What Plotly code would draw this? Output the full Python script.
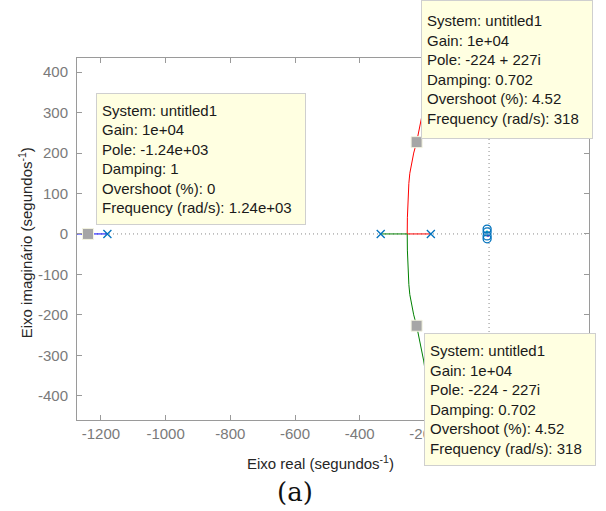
import plotly.graph_objects as go

# Open-loop poles and zeros (s-plane, 1/s)
pole_re = [-1180, -335, -180]
pole_im = [0, 0, 0]
zero_re = [-6, -6, -6, -6]
zero_im = [12, 5, -5, -12]

# Root-locus branches
blue_re = [-1180, -1274]
blue_im = [0, 0]
red_re = [-180, -253, -252.5, -251, -248, -245, -240, -233, -224, -213, -202, -181]
red_im = [0, 0, 40, 84, 125, 150, 175, 200, 227, 270, 314, 435]
green_re = [-335, -253, -252.5, -251, -248, -245, -240, -233, -224, -213, -202, -175]
green_im = [0, 0, -40, -84, -125, -150, -175, -200, -227, -270, -314, -460]
# short branches between the poles and zeros close to the origin
cyan_re = [-8, -5]
cyan_im = [8, 2]
magenta_re = [-4, -2]
magenta_im = [-2, -7]

# Data tips
tip_re = [-1240, -224, -224]
tip_im = [0, 227, -227]
tip_system = ["untitled1", "untitled1", "untitled1"]
tip_gain = ["1e+04", "1e+04", "1e+04"]
tip_pole = ["-1.24e+03", "-224 + 227i", "-224 - 227i"]
tip_damping = ["1", "0.702", "0.702"]
tip_overshoot = ["0", "4.52", "4.52"]
tip_freq = ["1.24e+03", "318", "318"]

# Axis ticks (labels at 0 and 200 sit under a data tip)
x_ticks = [-1200, -1000, -800, -600, -400, -200, 0, 200]
x_tick_labels = ["-1200", "-1000", "-800", "-600", "-400", "-200", "", ""]
y_ticks = [-400, -300, -200, -100, 0, 100, 200, 300, 400]
y_tick_labels = ["-400", "-300", "-200", "-100", "0", "100", "200", "300", "400"]
x_range = [-1274, 309]
y_range = [-460, 435]

W, H = 606, 511
L, R, T, B = 77, 17, 57.5, 91
PW, PH = W - L - R, H - T - B


def px(x):
    return (x - L) / PW


def py(y):
    return (H - B - y) / PH


fig = go.Figure()

fig.add_trace(go.Scatter(x=blue_re, y=blue_im, mode="lines",
                         line=dict(color="#0000ff", width=1)))
fig.add_trace(go.Scatter(x=red_re, y=red_im, mode="lines",
                         line=dict(color="#ff0000", width=1)))
fig.add_trace(go.Scatter(x=green_re, y=green_im, mode="lines",
                         line=dict(color="#008000", width=1)))
fig.add_trace(go.Scatter(x=cyan_re, y=cyan_im, mode="lines",
                         line=dict(color="#00bfbf", width=2)))
fig.add_trace(go.Scatter(x=magenta_re, y=magenta_im, mode="lines",
                         line=dict(color="#bf00bf", width=2)))

fig.add_trace(go.Scatter(x=pole_re, y=pole_im, mode="markers",
                         marker=dict(symbol="x-thin", size=8, color="#0072BD",
                                     line=dict(color="#0072BD", width=1.3))))
fig.add_trace(go.Scatter(x=zero_re, y=zero_im, mode="markers",
                         marker=dict(symbol="circle-open", size=8, color="#0072BD",
                                     line=dict(color="#0072BD", width=1.3))))

fig.add_trace(go.Scatter(x=tip_re, y=tip_im, mode="markers",
                         marker=dict(symbol="square", size=11, color="#a6a6a6",
                                     line=dict(color="#f4f4e0", width=1))))

# Dotted real and imaginary axes
fig.add_shape(type="line", xref="x", yref="paper", x0=0, x1=0, y0=0, y1=1,
              line=dict(color="#8a8a8a", width=1, dash="1px,3px"), layer="below")
fig.add_shape(type="line", xref="paper", yref="y", x0=0, x1=1, y0=0, y1=0,
              line=dict(color="#8a8a8a", width=1, dash="1px,3px"), layer="below")

axis_common = dict(showgrid=False, zeroline=False, showline=True, mirror="ticks",
                   linecolor="#9a9a9a", linewidth=1, ticks="inside", ticklen=5,
                   tickcolor="#9a9a9a", tickfont=dict(family="Liberation Sans", size=15,
                                                      color="#7a7a7a"))

fig.update_xaxes(range=x_range, tickvals=x_ticks, ticktext=x_tick_labels, **axis_common)
fig.update_yaxes(range=y_range, tickvals=y_ticks, ticktext=y_tick_labels,
                 ticklabelstandoff=5, **axis_common)

# Data tip boxes: (left, top, right, bottom) in pixels
boxes = [(95.5, 93, 305, 225), (421, -1, 593, 138), (424, 333, 596, 466)]
pad = 5
for i, (x0, y0, x1, y1) in enumerate(boxes):
    lines = [
        f"System: {tip_system[i]}",
        f"Gain: {tip_gain[i]}",
        f"Pole: {tip_pole[i]}",
        f"Damping: {tip_damping[i]}",
        f"Overshoot (%): {tip_overshoot[i]}",
        f"Frequency (rad/s): {tip_freq[i]}",
    ]
    fig.add_annotation(
        xref="paper", yref="paper", x=px(x0), y=py(y0),
        xanchor="left", yanchor="top", showarrow=False,
        text="<br>".join(lines), align="left", valign="middle",
        width=(x1 - x0) - 2 * pad - 2, height=(y1 - y0) - 2 * pad - 2,
        borderpad=pad, bgcolor="#ffffe1", bordercolor="#cfcfcf", borderwidth=1,
        font=dict(family="Liberation Sans", size=15, color="#1a1a1a"),
    )

# Axis titles
fig.add_annotation(xref="paper", yref="paper", x=px(320), y=py(463),
                   xanchor="center", yanchor="middle", showarrow=False,
                   text="Eixo real (segundos<sup>-1</sup>)",
                   font=dict(family="Liberation Sans", size=15, color="#262626"))
fig.add_annotation(xref="paper", yref="paper", x=px(25), y=py(243),
                   xanchor="center", yanchor="middle", showarrow=False, textangle=-90,
                   text="Eixo imaginário (segundos<sup>-1</sup>)",
                   font=dict(family="Liberation Sans", size=15, color="#262626"))
fig.add_annotation(xref="paper", yref="paper", x=px(295), y=py(492),
                   xanchor="center", yanchor="middle", showarrow=False,
                   text="(a)",
                   font=dict(family="DejaVu Serif", size=26, color="#111111"))

fig.update_layout(
    width=W, height=H, margin=dict(l=L, r=R, t=T, b=B),
    paper_bgcolor="white", plot_bgcolor="white", showlegend=False,
)

fig.write_html("out.html")
